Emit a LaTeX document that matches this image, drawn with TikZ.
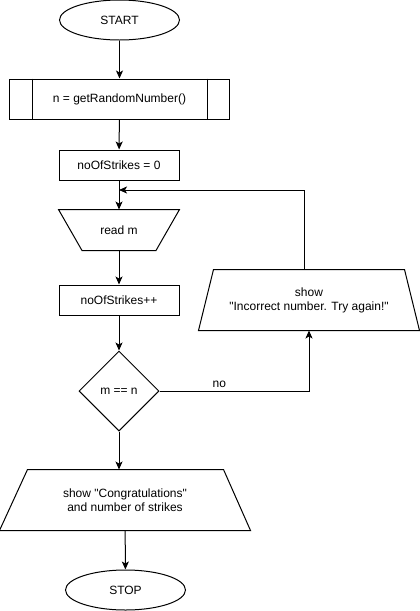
\documentclass[tikz,border=0pt]{standalone}
\usepackage{fontspec}
\setmainfont{Liberation Sans}[Ligatures=TeXOff]
\usetikzlibrary{shapes.geometric,arrows.meta}

\tikzset{
  flow/.style={draw, line width=1pt, inner sep=0, font=\fontsize{12}{14}\selectfont, align=center},
  term/.style={flow, ellipse, minimum width=120pt, minimum height=40pt},
  procbox/.style={flow, rectangle, minimum width=120pt, minimum height=30pt},
  decide/.style={flow, diamond, aspect=1, minimum width=80pt, minimum height=80pt},
  io/.style={flow, draw=none, rectangle}
}

\begin{document}
\begin{tikzpicture}[x=1pt, y=-1pt]
        \useasboundingbox (0,0) rectangle (420,611);

        \begin{scope}
                \node [term] (start) at (119.5,20) {START};
                \node [procbox, minimum width=220pt, minimum height=40pt] (rand) at (119.5,99) {n = getRandomNumber()};
                \draw [line width=1pt] ([xshift=23pt]rand.north west) -- ([xshift=23pt]rand.south west);
                \draw [line width=1pt] ([xshift=-23pt]rand.north east) -- ([xshift=-23pt]rand.south east);
                \node [procbox] (zero) at (119,165) {noOfStrikes = 0};
                \node [io, minimum width=120pt, minimum height=40pt] (read) at (119,230) {read m};
                \draw [line width=1pt] (read.north west) -- (read.north east) -- ([xshift=-23.5pt]read.south east)
                        -- ([xshift=23.5pt]read.south west) -- cycle;
                \node [procbox] (incr) at (119,300) {noOfStrikes++};
                \node [decide] (cmp) at (119,391) {m == n};
                \node [io, minimum width=220pt, minimum height=60pt] (wrong) at (309,300) {show\\ "Incorrect number. Try again!"};
                \draw [line width=1pt] ([xshift=15pt]wrong.north west) -- ([xshift=-15pt]wrong.north east)
                        -- (wrong.south east) -- (wrong.south west) -- cycle;
                \node [io, minimum width=250pt, minimum height=60pt] (congrats) at (125,500) {show "Congratulations"\\ and number of strikes};
                \draw [line width=1pt] ([xshift=28pt]congrats.north west) -- ([xshift=-27pt]congrats.north east)
                        -- (congrats.south east) -- (congrats.south west) -- cycle;
                \node [term] (stop) at (125.5,590) {STOP};
                \coordinate (merge) at (119,190);
        \end{scope}

        \begin{scope}[every path/.style={line width=1pt, -{Stealth[length=8pt, width=7pt, inset=2pt]}}]
                \path (start) edge (rand);
                \path (rand) edge (zero);
                \path (zero) edge (read);
                \path (read) edge (incr);
                \path (incr) edge (cmp);
                \draw (cmp.east) -| node [above, pos=0.2, font=\fontsize{12}{14}\selectfont] {no} (wrong.south);
                \draw ([xshift=-5pt]wrong.north) |- (merge);
                \draw (cmp.south) -- (cmp.south |- congrats.north);
                \path (congrats) edge (stop);
        \end{scope}
\end{tikzpicture}
\end{document}
